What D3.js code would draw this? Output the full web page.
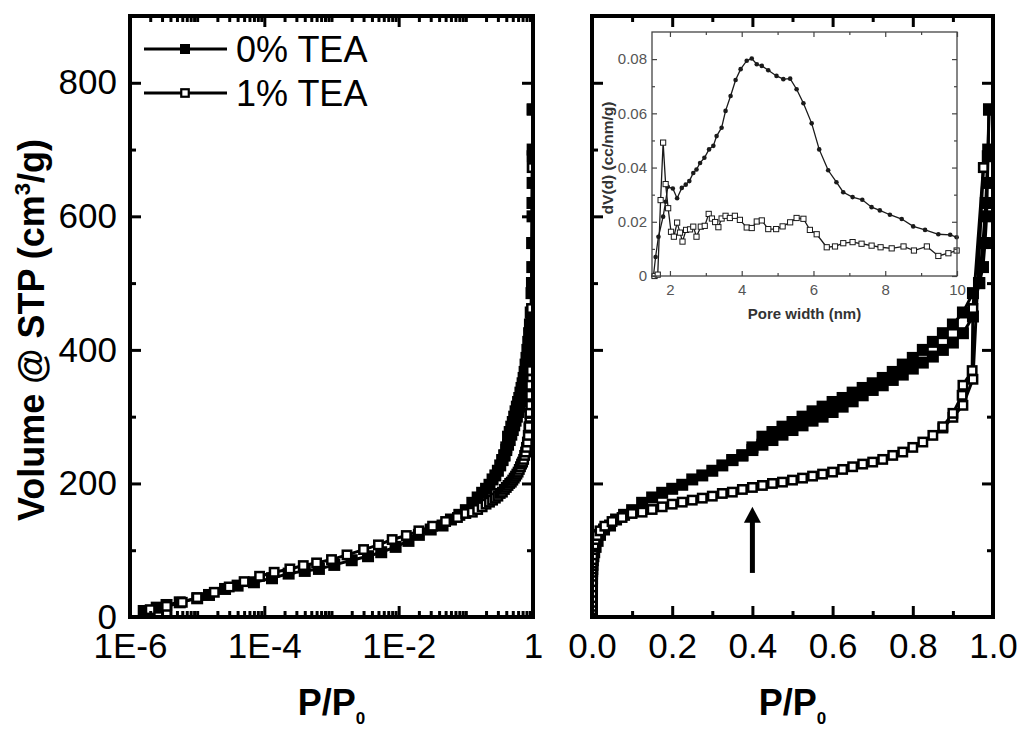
<!DOCTYPE html>
<html><head><meta charset="utf-8">
<script src="https://cdn.jsdelivr.net/npm/d3@7"></script>
<style>
html,body{margin:0;padding:0;background:#fff;}
svg{display:block;font-family:"Liberation Sans",Arial,sans-serif;}
</style></head><body>
<svg id="chart" width="1021" height="730"></svg>
<script>
// ---------------- data ----------------
const seriesNames = ["0% TEA", "1% TEA"];

// N2 isotherm, 0% TEA, adsorption branch: P/P0 and uptake (cm3/g STP)
const p0Ads = [1.6e-6,2.5e-6,3.5e-6,5.5e-6,1.0e-5,1.5e-5,2.6e-5,4.0e-5,7.0e-5,1.3e-4,2.3e-4,4.0e-4,6.5e-4,1.1e-3,2.0e-3,3.5e-3,5.5e-3,9.0e-3,0.014,0.02,0.03,0.045,0.06,0.08,
  0.100,0.125,0.150,0.175,0.200,0.225,0.250,0.275,0.300,0.325,0.350,0.375,0.400,0.425,0.450,0.475,0.500,0.525,0.550,0.575,0.600,0.625,0.650,0.675,0.700,0.725,0.750,0.775,0.800,0.825,0.850,0.875,0.900,0.925,0.950,
  0.965,0.975,0.982,0.987,0.990];
const v0Ads = [9,14,18,22,28,33,42,47,52,58,65,69,72,78,85,91,97,105,114,123,131,137,146,153,
  160,171,179,186,192,198,206,212,219,227,235,242,250,258,265,273,280,287,294,300,307,315,323,332,340,347,355,363,372,381,390,400,411,425,450,
  500,560,620,690,760];
// 0% TEA, desorption branch
const p0Des = [0.990,0.988,0.986,0.984,0.980,0.975,0.966,0.950,0.925,0.900,0.875,0.850,0.825,0.800,0.775,0.750,0.725,0.700,0.675,0.650,0.625,0.600,0.575,0.550,0.525,0.500,0.475,0.450,0.425,0.400,0.375,0.350];
const v0Des = [760,700,650,600,560,524,500,485,456,438,425,412,400,388,378,367,358,350,343,336,328,322,315,308,300,292,285,277,270,254,242,235];

// 1% TEA, adsorption branch
const p1Ads = [2e-6,3.5e-6,6e-6,1e-5,1.8e-5,3e-5,5e-5,8.5e-5,1.4e-4,2.4e-4,3.8e-4,6e-4,1e-3,1.7e-3,3e-3,5e-3,8e-3,0.013,0.02,0.032,0.05,0.075,
  0.100,0.125,0.150,0.175,0.200,0.225,0.250,0.275,0.300,0.325,0.350,0.375,0.400,0.425,0.450,0.475,0.500,0.525,0.550,0.575,0.600,0.625,0.650,0.675,0.700,0.725,0.750,0.775,0.800,0.825,0.850,0.875,0.900,0.925,0.950,
  0.976];
const v1Ads = [11,16,22,29,37,45,53,61,67,72,77,81,86,93,101,108,116,122,129,136,143,149,
  155,157,161,165,169,172,175,178,181,185,187,191,194,197,200,202,205,208,211,214,217,221,225,229,232,236,242,247,254,262,272,283,299,317,356,
  673];
// 1% TEA, desorption branch
const p1Des = [0.976,0.950,0.948,0.925,0.923,0.900,0.875];
const v1Des = [673,462,369,347,332,305,285];

// pore size distribution (inset): pore width (nm) and dV(d) (cc/nm/g)
const pore0 = [1.54,1.60,1.68,1.81,1.88,1.94,2.08,2.20,2.33,2.44,2.54,2.65,2.74,2.84,2.96,3.09,3.21,3.30,3.44,3.55,3.69,3.83,3.97,4.14,4.28,4.42,4.56,4.74,4.97,5.16,5.35,5.53,5.72,5.95,6.16,6.41,6.64,6.83,7.09,7.36,7.62,7.85,8.13,8.46,8.78,9.11,9.48,9.81,9.99];
const dv0 = [0,0.0070,0.0145,0.0219,0.0274,0.0329,0.0323,0.0287,0.0325,0.0337,0.0350,0.0380,0.0393,0.0417,0.0436,0.0467,0.0480,0.0516,0.0547,0.0609,0.0664,0.0723,0.0763,0.0794,0.0802,0.0781,0.0775,0.0759,0.0738,0.0726,0.0728,0.0689,0.0637,0.0563,0.0467,0.0390,0.0346,0.0309,0.0291,0.0281,0.0254,0.0242,0.0226,0.0210,0.0183,0.0170,0.0154,0.0152,0.0143];
const pore1 = [1.57,1.66,1.74,1.81,1.88,1.95,2.03,2.11,2.20,2.28,2.35,2.45,2.56,2.65,2.74,2.86,2.97,3.08,3.17,3.26,3.35,3.44,3.55,3.67,3.81,3.95,4.14,4.28,4.42,4.56,4.74,4.96,5.14,5.35,5.53,5.72,5.90,6.09,6.37,6.60,6.83,7.09,7.34,7.62,7.87,8.18,8.51,8.80,9.16,9.48,9.76,9.99];
const dv1 = [0,0.0005,0.0280,0.0492,0.0339,0.0250,0.0163,0.0145,0.0197,0.0160,0.0127,0.0170,0.0172,0.0182,0.0145,0.0182,0.0185,0.0229,0.0212,0.0199,0.0180,0.0212,0.0222,0.0214,0.0222,0.0207,0.0179,0.0177,0.0201,0.0205,0.0173,0.0173,0.0183,0.0198,0.0214,0.0211,0.0170,0.0154,0.0106,0.0109,0.0121,0.0125,0.0119,0.0112,0.0106,0.0102,0.0109,0.0094,0.0109,0.0074,0.0084,0.0094];

// axis ticks and labels
const volTicks = [0,200,400,600,800];
const volMinor = [100,300,500,700];
const logTicks = [1e-6,1e-4,1e-2,1];
const logTickLabels = ["1E-6","1E-4","1E-2","1"];
const linTicks = [0,0.2,0.4,0.6,0.8,1.0];
const linTickLabels = ["0.0","0.2","0.4","0.6","0.8","1.0"];
const linMinor = [0.1,0.3,0.5,0.7,0.9];
const poreTicks = [2,4,6,8,10];
const poreMinor = [3,5,7,9];
const dvTicks = [0,0.02,0.04,0.06,0.08];
const dvTickLabels = ["0","0.02","0.04","0.06","0.08"];
const dvMinor = [0.01,0.03,0.05,0.07];

// arrow marking the hysteresis closure point
const arrowMark = {p: 0.4, from: 66, to: 165};

// ---------------- layout ----------------
const svg = d3.select("#chart");
const leftBox  = {x0: 130, x1: 533, y0: 16, y1: 617};
const rightBox = {x0: 592, x1: 993, y0: 16, y1: 617};
const insetBox = {x0: 652, x1: 957, y0: 32, y1: 276};

const yVol = d3.scaleLinear().domain([0, 900]).range([leftBox.y1, leftBox.y0]);
const xLog = d3.scaleLog().domain([1e-6, 1]).range([leftBox.x0, leftBox.x1]);
const xLin = d3.scaleLinear().domain([0, 1]).range([rightBox.x0, rightBox.x1]);

// minor log ticks: 2..9 x each decade plus the unlabeled decades
const logMinor = [];
for (let e = -6; e < 0; e++) {
  for (let k = 1; k <= 9; k++) {
    const v = k * Math.pow(10, e);
    if (!(k === 1 && e % 2 === 0)) logMinor.push(v);
  }
}

const zip = (a, b) => a.map((d, i) => [d, b[i]]);
const series = [
  {name: seriesNames[0], filled: true,  branches: [zip(p0Ads, v0Ads), zip(p0Des, v0Des)]},
  {name: seriesNames[1], filled: false, branches: [zip(p1Ads, v1Ads), zip(p1Des, v1Des)]}
];
const FILLED_SIZE = 12, OPEN_SIZE = 8.4;

function styleAxis(g, width, fontSize) {
  g.select(".domain").remove();
  g.selectAll(".tick line").attr("stroke", "#000").attr("stroke-width", width);
  g.selectAll("text").attr("font-size", fontSize).attr("fill", "#000")
    .attr("font-family", '"Liberation Sans", Arial, sans-serif');
  g.attr("font-family", null).attr("font-size", null);
}

function drawPanel(id, box, x, xMajor, xLabels, xMinor, yLabels) {
  const g = svg.append("g");
  const clipId = "clip-" + id;
  svg.append("clipPath").attr("id", clipId).append("rect")
    .attr("x", box.x0).attr("y", box.y0)
    .attr("width", box.x1 - box.x0).attr("height", box.y1 - box.y0);

  const plot = g.append("g").attr("clip-path", `url(#${clipId})`);
  const line = d3.line().x(d => x(d[0])).y(d => yVol(d[1]));
  series.forEach(s => {
    s.branches.forEach(b => {
      const pts = b.filter(d => d[0] >= x.domain()[0] * 0.5);
      plot.append("path").datum(pts).attr("d", line)
        .attr("fill", "none").attr("stroke", "#000").attr("stroke-width", 3);
    });
  });
  series.forEach(s => {
    s.branches.forEach(b => {
      const pts = b.filter(d => d[0] >= x.domain()[0] * 0.5);
      const sz = s.filled ? FILLED_SIZE : OPEN_SIZE;
      plot.selectAll(null).data(pts).enter().append("rect")
        .attr("x", d => x(d[0]) - sz / 2).attr("y", d => yVol(d[1]) - sz / 2)
        .attr("width", sz).attr("height", sz)
        .attr("fill", s.filled ? "#000" : "#fff")
        .attr("stroke", s.filled ? "none" : "#000")
        .attr("stroke-width", s.filled ? 0 : 2.5);
    });
  });

  // bottom axis (labels) and minor ticks
  const bot = g.append("g").attr("transform", `translate(0,${box.y1})`)
    .call(d3.axisBottom(x).tickValues(xMajor).tickSize(-11).tickPadding(16)
      .tickFormat((d, i) => xLabels[i]));
  styleAxis(bot, 3, 35);
  const botMin = g.append("g").attr("transform", `translate(0,${box.y1})`)
    .call(d3.axisBottom(x).tickValues(xMinor).tickSize(-6).tickFormat(""));
  styleAxis(botMin, 3, 35);
  const top = g.append("g").attr("transform", `translate(0,${box.y0})`)
    .call(d3.axisTop(x).tickValues(xMajor).tickSize(-11).tickFormat(""));
  styleAxis(top, 3, 35);
  const topMin = g.append("g").attr("transform", `translate(0,${box.y0})`)
    .call(d3.axisTop(x).tickValues(xMinor).tickSize(-6).tickFormat(""));
  styleAxis(topMin, 3, 35);

  const lft = g.append("g").attr("transform", `translate(${box.x0},0)`)
    .call(d3.axisLeft(yVol).tickValues(volTicks).tickSize(-11).tickPadding(13)
      .tickFormat(d => yLabels ? d : ""));
  styleAxis(lft, 3, 35);
  const lftMin = g.append("g").attr("transform", `translate(${box.x0},0)`)
    .call(d3.axisLeft(yVol).tickValues(volMinor).tickSize(-6).tickFormat(""));
  styleAxis(lftMin, 3, 35);
  const rgt = g.append("g").attr("transform", `translate(${box.x1},0)`)
    .call(d3.axisRight(yVol).tickValues(volTicks).tickSize(-11).tickFormat(""));
  styleAxis(rgt, 3, 35);
  const rgtMin = g.append("g").attr("transform", `translate(${box.x1},0)`)
    .call(d3.axisRight(yVol).tickValues(volMinor).tickSize(-6).tickFormat(""));
  styleAxis(rgtMin, 3, 35);

  g.append("rect").attr("x", box.x0).attr("y", box.y0)
    .attr("width", box.x1 - box.x0).attr("height", box.y1 - box.y0)
    .attr("fill", "none").attr("stroke", "#000").attr("stroke-width", 4);

  // x title P/P0
  const t = g.append("text").attr("x", (box.x0 + box.x1) / 2).attr("y", 715)
    .attr("text-anchor", "middle").attr("font-weight", "bold").attr("font-size", 36);
  t.append("tspan").text("P/P");
  t.append("tspan").attr("font-size", 17).attr("dy", 9).text("0");
  return g;
}

drawPanel("log", leftBox, xLog, logTicks, logTickLabels, logMinor, true);
drawPanel("lin", rightBox, xLin, linTicks, linTickLabels, linMinor, false);

// y title
const yt = svg.append("text").attr("transform", "translate(44,330) rotate(-90)")
  .attr("text-anchor", "middle").attr("font-weight", "bold").attr("font-size", 36);
yt.append("tspan").text("Volume @ STP (cm");
yt.append("tspan").attr("font-size", 22).attr("dy", -14).text("3");
yt.append("tspan").attr("dy", 14).text("/g)");

// legend
const legend = svg.append("g");
series.forEach((s, i) => {
  const ly = 49 + i * 44;
  legend.append("line").attr("x1", 144).attr("x2", 227).attr("y1", ly).attr("y2", ly)
    .attr("stroke", "#000").attr("stroke-width", 3);
  const sz = s.filled ? 10 : 7.5;
  legend.append("rect").attr("x", 185 - sz / 2).attr("y", ly - sz / 2)
    .attr("width", sz).attr("height", sz)
    .attr("fill", s.filled ? "#000" : "#fff").attr("stroke", s.filled ? "none" : "#000")
    .attr("stroke-width", 2.2);
  legend.append("text").attr("x", 236).attr("y", ly + 13).attr("font-size", 36)
    .text(s.name);
});

// arrow
const ax = xLin(arrowMark.p);
const aTip = yVol(arrowMark.to);
svg.append("line").attr("x1", ax).attr("x2", ax)
  .attr("y1", yVol(arrowMark.from)).attr("y2", aTip + 12)
  .attr("stroke", "#000").attr("stroke-width", 5);
svg.append("path").attr("d", `M${ax},${aTip} L${ax - 8.5},${aTip + 16} L${ax + 8.5},${aTip + 16} Z`)
  .attr("fill", "#000");

// ---------------- inset: pore size distribution ----------------
const xPore = d3.scaleLinear().domain([1.5, 10]).range([insetBox.x0, insetBox.x1]);
const yDv = d3.scaleLinear().domain([0, 0.09]).range([insetBox.y1, insetBox.y0]);
const ins = svg.append("g");
ins.append("rect").attr("x", insetBox.x0).attr("y", insetBox.y0)
  .attr("width", insetBox.x1 - insetBox.x0).attr("height", insetBox.y1 - insetBox.y0)
  .attr("fill", "#fff");
const insColor = "#1a1a1a";
const psd = [
  {filled: true, pts: zip(pore0, dv0)},
  {filled: false, pts: zip(pore1, dv1)}
];
const insLine = d3.line().x(d => xPore(d[0])).y(d => yDv(d[1]));
psd.forEach(s => {
  ins.append("path").datum(s.pts).attr("d", insLine).attr("fill", "none")
    .attr("stroke", insColor).attr("stroke-width", 1.3);
});
psd.forEach(s => {
  if (s.filled) {
    ins.selectAll(null).data(s.pts).enter().append("circle")
      .attr("cx", d => xPore(d[0])).attr("cy", d => yDv(d[1])).attr("r", 2.3)
      .attr("fill", insColor);
  } else {
    ins.selectAll(null).data(s.pts).enter().append("rect")
      .attr("x", d => xPore(d[0]) - 2.6).attr("y", d => yDv(d[1]) - 2.6)
      .attr("width", 5.2).attr("height", 5.2)
      .attr("fill", "#fff").attr("stroke", insColor).attr("stroke-width", 1);
  }
});

function styleInset(g, labelColor) {
  g.select(".domain").remove();
  g.selectAll(".tick line").attr("stroke", "#444").attr("stroke-width", 1.2);
  g.selectAll("text").attr("font-size", 15).attr("fill", labelColor)
    .attr("font-family", '"Liberation Sans", Arial, sans-serif');
}
const ib = ins.append("g").attr("transform", `translate(0,${insetBox.y1})`)
  .call(d3.axisBottom(xPore).tickValues(poreTicks).tickSize(-5).tickPadding(8));
styleInset(ib, "#555");
styleInset(ins.append("g").attr("transform", `translate(0,${insetBox.y1})`)
  .call(d3.axisBottom(xPore).tickValues(poreMinor).tickSize(-3).tickFormat("")), "#555");
styleInset(ins.append("g").attr("transform", `translate(0,${insetBox.y0})`)
  .call(d3.axisTop(xPore).tickValues(poreTicks).tickSize(-5).tickFormat("")), "#555");
styleInset(ins.append("g").attr("transform", `translate(0,${insetBox.y0})`)
  .call(d3.axisTop(xPore).tickValues(poreMinor).tickSize(-3).tickFormat("")), "#555");
styleInset(ins.append("g").attr("transform", `translate(${insetBox.x0},0)`)
  .call(d3.axisLeft(yDv).tickValues(dvTicks).tickSize(-5).tickPadding(5)
    .tickFormat((d, i) => dvTickLabels[i])), "#555");
styleInset(ins.append("g").attr("transform", `translate(${insetBox.x0},0)`)
  .call(d3.axisLeft(yDv).tickValues(dvMinor).tickSize(-3).tickFormat("")), "#555");
styleInset(ins.append("g").attr("transform", `translate(${insetBox.x1},0)`)
  .call(d3.axisRight(yDv).tickValues(dvTicks).tickSize(-5).tickFormat("")), "#555");
styleInset(ins.append("g").attr("transform", `translate(${insetBox.x1},0)`)
  .call(d3.axisRight(yDv).tickValues(dvMinor).tickSize(-3).tickFormat("")), "#555");
ins.append("rect").attr("x", insetBox.x0).attr("y", insetBox.y0)
  .attr("width", insetBox.x1 - insetBox.x0).attr("height", insetBox.y1 - insetBox.y0)
  .attr("fill", "none").attr("stroke", "#444").attr("stroke-width", 1.3);
ins.append("text").attr("x", (insetBox.x0 + insetBox.x1) / 2).attr("y", 319)
  .attr("text-anchor", "middle").attr("font-weight", "bold").attr("font-size", 15)
  .attr("fill", "#333").text("Pore width (nm)");
ins.append("text").attr("transform", `translate(613,${(insetBox.y0 + insetBox.y1) / 2 + 4}) rotate(-90)`)
  .attr("text-anchor", "middle").attr("font-weight", "bold").attr("font-size", 15.5)
  .attr("fill", "#333").text("dV(d) (cc/nm/g)");
</script>
</body></html>
